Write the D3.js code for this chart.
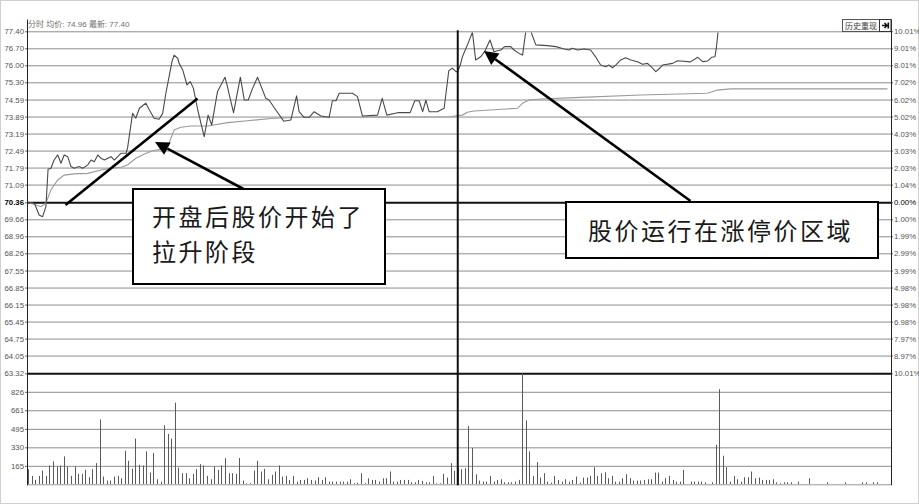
<!DOCTYPE html>
<html><head><meta charset="utf-8">
<script src="https://cdn.jsdelivr.net/npm/d3@7"></script>
<style>body{margin:0;background:#fff}svg{display:block}</style>
</head><body>
<svg id="c" width="919" height="504"></svg>
<script>
// ---------------- DATA ----------------
const priceTickLabels = ["77.40","76.70","76.00","75.30","74.59","73.89","73.19","72.49","71.79","71.09","70.36","69.66","68.96","68.26","67.55","66.85","66.15","65.45","64.75","64.05","63.32"];
const pctTickLabels = ["10.01%","9.01%","8.01%","7.02%","6.02%","5.02%","4.03%","3.03%","2.03%","1.04%","0.00%","1.00%","1.99%","2.99%","3.99%","4.98%","5.98%","6.98%","7.97%","8.97%","10.01%"];
const prevClose = 70.36;
const volTicks = [165, 330, 495, 661, 826];
const volMax = 991;
const headerText = "分时 均价: 74.96 最新: 77.40";
const buttonText = "历史重现";
const note1Lines = ["开盘后股价开始了", "拉升阶段"];
const note2Lines = ["股价运行在涨停价区域"];

// price line (minute index, price)
const priceMinutes = [0,1.8,3.1,4.1,5.0,5.6,6.4,7.3,8.3,9.2,10.1,11.1,12.0,12.9,14.3,15.3,16.7,17.6,18.5,19.5,20.4,21.3,23.2,24.1,26.0,27.4,27.8,29.2,30.1,31.1,32.9,33.9,35.2,36.6,37.6,38.5,39.4,40.2,40.8,41.8,42.2,43.2,44.4,45.3,46.2,47.4,49.2,50.3,51.3,52.9,55.0,55.7,56.2,57.4,59.3,60.4,61.5,62.7,64.1,66.4,67.3,69.2,71.4,73.4,75.0,75.7,77.1,78.5,79.9,81.8,84.1,85.0,86.0,86.9,90.6,92.0,93.4,97.6,98.9,100.2,103.2,106.7,108.0,109.2,110.2,111.1,112.0,114.3,116.2,117.5,118.5,119.5,120.0,120.7,121.3,122.7,124.1,125.0,126.4,127.5,129.0,130.1,132.0,133.1,134.8,135.7,137.1,138.1,139.0,140.4,141.8,145.0,147.4,149.7,151.1,152.0,153.4,155.3,157.1,158.5,159.9,161.3,162.2,163.2,164.1,165.5,166.9,168.3,170.2,171.6,173.0,174.4,175.3,176.4,177.2,180.0,181.4,185.0,187.0,188.4,189.8,190.9,191.8,192.2,192.7,240];
const priceValues = [70.36,70.32,69.84,69.77,70.18,71.72,71.76,72.10,72.31,71.97,72.31,72.24,71.83,71.76,71.83,71.76,71.90,72.10,72.03,72.31,72.17,72.10,72.24,72.10,72.38,72.38,72.60,74.02,73.82,74.23,74.44,74.16,73.82,73.78,74.02,74.85,75.53,76.15,76.42,76.29,76.08,75.81,75.19,75.33,75.05,74.16,73.06,73.95,73.54,74.91,75.51,75.12,74.78,74.05,75.51,74.57,74.57,75.05,75.51,74.64,74.57,74.16,73.70,73.75,74.74,74.09,73.86,73.86,74.09,73.91,73.86,74.54,74.54,74.85,74.85,74.71,73.91,73.95,74.64,73.95,74.05,74.05,74.54,74.54,74.09,74.57,74.09,74.09,74.23,75.78,75.88,75.74,75.74,76.01,76.35,76.84,77.36,76.22,76.35,76.56,77.04,76.56,76.63,76.77,76.77,76.63,76.49,76.42,77.40,77.40,76.84,76.81,76.77,76.67,76.63,76.70,76.63,76.67,76.63,76.35,76.01,75.94,76.01,75.90,76.01,76.22,76.31,76.22,76.15,76.04,76.08,75.88,75.74,75.88,76.01,76.08,76.19,76.14,76.33,76.15,76.18,76.33,76.35,76.70,77.40,77.40];

// average price line (minute index, price)
const avgMinutes = [0,3.6,5.0,6.4,8.3,10.1,12.9,16.7,20.4,23.2,26.0,27.8,30.1,32.5,34.8,37.1,39.4,40.8,42.7,45.5,50.2,55.7,61.3,68.7,76.2,118.0,120.0,121.3,122.7,124.6,136.7,138.1,139.9,143.2,152.5,171.1,189.7,192.5,196.2,240];
const avgValues = [70.36,70.18,70.33,70.87,71.28,71.48,71.53,71.55,71.69,71.76,71.80,71.90,72.17,72.35,72.48,72.54,72.79,73.34,73.45,73.50,73.50,73.64,73.72,73.82,73.86,73.88,73.93,73.95,74.07,74.12,74.23,74.44,74.57,74.61,74.67,74.78,74.85,74.98,75.03,75.03];

// volume per minute (241 minutes)
const volumes = [
 135,75,39,75,123,75,168,204,159,168,
 249,159,75,159,93,93,129,63,135,189,
 579,69,33,33,69,75,54,300,210,138,
 408,174,168,294,105,279,45,24,528,450,
 408,729,150,99,99,54,93,135,180,168,
 75,45,159,129,168,234,99,99,93,234,
 33,9,9,123,210,114,138,45,84,114,
 168,69,75,39,75,24,39,39,54,39,
 33,63,39,63,24,24,24,24,24,24,
 45,9,15,99,9,54,39,39,24,54,
 54,114,24,24,39,39,39,18,18,39,
 30,18,18,75,9,9,93,60,189,120,
 150,
 135,144,519,324,90,33,24,24,75,
 24,39,45,18,18,18,24,39,1000,570,
 294,75,198,60,99,24,15,75,39,24,
 45,24,39,69,15,60,60,75,153,75,
 99,108,54,75,24,24,54,90,54,33,
 33,33,39,45,45,105,105,24,54,75,
 39,24,24,129,0,24,24,24,24,18,
 0,18,354,849,255,153,24,75,45,24,
 63,63,114,54,60,39,39,39,45,18,
 9,18,18,18,0,24,0,0,54,0,
 0,0,0,18,0,0,0,0,18,0,
 0,0,0,18,18,0,18,18,0,0,
 0];

// ---------------- LAYOUT ----------------
const L = 27, R = 891, PT = 31.3, PB = 373.3, VB = 484.3, TOP = 19.5;
const svg = d3.select("#c");
const lblFont = "'Liberation Sans', Arial, sans-serif";
const cjkFont = "'Noto Sans CJK SC', 'Noto Sans', sans-serif";

const x = d3.scaleLinear().domain([0, 240]).range([28, 887.5]);
const priceTickValues = priceTickLabels.map(Number);
const y = d3.scaleLinear().domain([63.32, 77.40]).range([PB, PT]);
const yv = d3.scaleLinear().domain([0, volMax]).range([VB, PB]);

const defs = svg.append("defs");
defs.append("clipPath").attr("id", "vclip")
  .append("rect").attr("x", L).attr("y", PB).attr("width", R - L).attr("height", VB - PB);
defs.append("clipPath").attr("id", "pclip")
  .append("rect").attr("x", L).attr("y", PT + 1.2).attr("width", R - L).attr("height", PB - PT);

// outer light border
svg.append("rect").attr("x", 0.5).attr("y", 0.5).attr("width", 918).attr("height", 503)
  .attr("fill", "none").attr("stroke", "#d0d0d0");

// price grid
const grid = svg.append("g").attr("transform", `translate(${L},0)`)
  .call(d3.axisLeft(y).tickValues(priceTickValues).tickSize(-(R - L)).tickFormat(""));
grid.select(".domain").remove();
grid.selectAll(".tick line")
  .attr("stroke", (d, i) => (i === 10 || i === 20) ? "#111" : "#8c8c8c")
  .attr("stroke-width", (d, i) => (i === 10 || i === 20) ? 2 : 1);

// volume grid
const vgrid = svg.append("g").attr("transform", `translate(${L},0)`)
  .call(d3.axisLeft(yv).tickValues(volTicks).tickSize(-(R - L)).tickFormat(""));
vgrid.select(".domain").remove();
vgrid.selectAll(".tick line").attr("stroke", "#8c8c8c");

// bottom baseline
svg.append("line").attr("x1", L).attr("x2", R).attr("y1", VB + 0.5).attr("y2", VB + 0.5)
  .attr("stroke", "#9a9a9a");

// left price axis labels
const la = svg.append("g").attr("transform", `translate(${L},0)`)
  .call(d3.axisLeft(y).tickValues(priceTickValues).tickSize(2).tickPadding(1)
    .tickFormat((d, i) => priceTickLabels[i]));
la.select(".domain").remove();
la.selectAll(".tick line").attr("stroke", "#666");
la.selectAll("text").attr("font-family", lblFont).attr("font-size", 7.8)
  .attr("fill", (d, i) => i === 10 ? "#000" : "#555")
  .attr("font-weight", (d, i) => i === 10 ? "bold" : "normal");

// right percent labels
const ra = svg.append("g").attr("transform", `translate(${R},0)`)
  .call(d3.axisRight(y).tickValues(priceTickValues).tickSize(2).tickPadding(1)
    .tickFormat((d, i) => pctTickLabels[i]));
ra.select(".domain").remove();
ra.selectAll(".tick line").attr("stroke", "#666");
ra.selectAll("text").attr("font-family", lblFont).attr("font-size", 7.8)
  .attr("fill", (d, i) => i === 10 ? "#000" : "#555");

// volume axis labels
const va = svg.append("g").attr("transform", `translate(${L},0)`)
  .call(d3.axisLeft(yv).tickValues(volTicks).tickSize(2).tickPadding(1));
va.select(".domain").remove();
va.selectAll(".tick line").attr("stroke", "#666");
va.selectAll("text").attr("font-family", lblFont).attr("font-size", 7.8).attr("fill", "#555");

// volume bars
svg.append("g").attr("clip-path", "url(#vclip)").selectAll("line").data(volumes).join("line")
  .attr("x1", (d, i) => Math.round(x(i)) + 0.5).attr("x2", (d, i) => Math.round(x(i)) + 0.5)
  .attr("y1", yv(0)).attr("y2", d => yv(d))
  .attr("stroke", "#5a5a5a").attr("stroke-width", 1);

// average & price lines
const avgData = avgMinutes.map((m, i) => [m, avgValues[i]]);
const priceData = priceMinutes.map((m, i) => [m, priceValues[i]]);
const lineGen = d3.line().x(d => x(d[0])).y(d => y(d[1]));
const lines = svg.append("g").attr("clip-path", "url(#pclip)");
lines.append("path").datum(avgData).attr("d", lineGen)
  .attr("fill", "none").attr("stroke", "#9a9a9a").attr("stroke-width", 1.1);
lines.append("path").datum(priceData).attr("d", lineGen)
  .attr("fill", "none").attr("stroke", "#4a4a4a").attr("stroke-width", 1.1)
  .attr("stroke-linejoin", "round");

// frame: left / right / session divider
svg.append("line").attr("x1", L + 0.5).attr("x2", L + 0.5).attr("y1", TOP).attr("y2", VB + 1)
  .attr("stroke", "#222");
svg.append("line").attr("x1", R + 0.5).attr("x2", R + 0.5).attr("y1", TOP).attr("y2", VB + 1)
  .attr("stroke", "#222");
svg.append("line").attr("x1", x(120)).attr("x2", x(120)).attr("y1", PT - 1).attr("y2", VB + 1)
  .attr("stroke", "#111").attr("stroke-width", 2);

// header text
svg.append("text").attr("x", 28).attr("y", 27).text(headerText)
  .attr("font-family", lblFont + "," + cjkFont).attr("font-size", 8).attr("fill", "#707070");

// top-right button
const btn = svg.append("g");
btn.append("rect").attr("x", 842.5).attr("y", 19.5).attr("width", 37).attr("height", 12)
  .attr("fill", "#fafafa").attr("stroke", "#555");
btn.append("text").attr("x", 861).attr("y", 28.5).attr("text-anchor", "middle").text(buttonText)
  .attr("font-family", cjkFont).attr("font-size", 8).attr("fill", "#444");
btn.append("rect").attr("x", 879.5).attr("y", 19.5).attr("width", 11.5).attr("height", 12)
  .attr("fill", "#fafafa").attr("stroke", "#333");
btn.append("path").attr("d", "M882,25.5 L886,25.5 M884.5,23 L887,25.5 L884.5,28 M888.3,22.5 L888.3,28.5")
  .attr("stroke", "#111").attr("stroke-width", 1.6).attr("fill", "none");

// ---------------- ANNOTATIONS ----------------
const ann = svg.append("g");
function arrow(x1, y1, tx, ty, withHead) {
  const dx = tx - x1, dy = ty - y1, len = Math.hypot(dx, dy);
  const ux = dx / len, uy = dy / len, hl = 14, hw = 7;
  const bx = tx - ux * hl, by = ty - uy * hl;
  ann.append("line").attr("x1", x1).attr("y1", y1)
    .attr("x2", withHead ? bx : tx).attr("y2", withHead ? by : ty)
    .attr("stroke", "#000").attr("stroke-width", 2.6);
  if (withHead) {
    const nx = -uy * hw, ny = ux * hw;
    ann.append("path").attr("d", `M${tx},${ty} L${bx + nx},${by + ny} L${bx - nx},${by - ny} Z`)
      .attr("fill", "#000");
  }
}
arrow(65.5, 205, 197.5, 98.5, false);
arrow(243.5, 189, 155, 142, true);
arrow(690.5, 201, 484, 51, true);

function note(bx, by, bw, bh, lines, tx, ty, lh) {
  ann.append("rect").attr("x", bx).attr("y", by).attr("width", bw).attr("height", bh)
    .attr("fill", "#fff").attr("stroke", "#000").attr("stroke-width", 2);
  lines.forEach((t, i) => {
    ann.append("text").attr("x", tx).attr("y", ty + i * lh).text(t)
      .attr("font-family", cjkFont).attr("font-size", 24).attr("letter-spacing", 2.5)
      .attr("fill", "#1a1a1a");
  });
}
note(133, 189, 252, 95, note1Lines, 152, 226, 35);
note(566, 202, 312, 56, note2Lines, 588, 240, 35);
</script>
</body></html>
